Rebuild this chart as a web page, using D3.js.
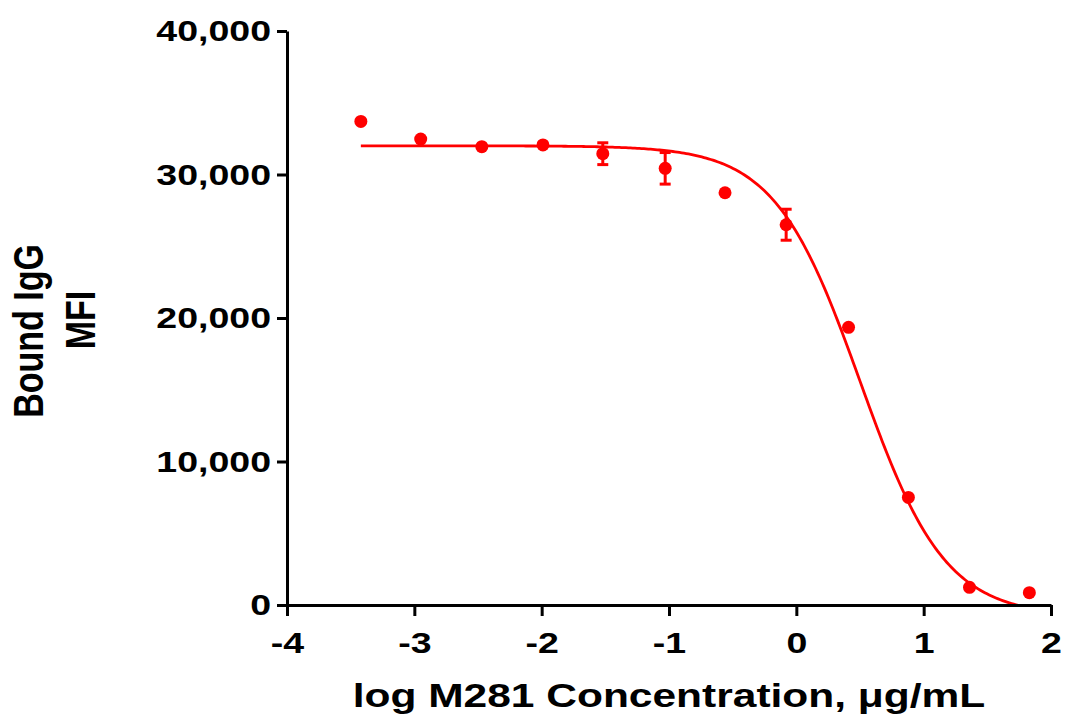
<!DOCTYPE html>
<html>
<head>
<meta charset="utf-8">
<script src="https://cdn.jsdelivr.net/npm/d3@7"></script>
<style>
  body { margin: 0; background: #fff; }
  svg { display: block; }
  text { font-family: "Liberation Sans", Arial, sans-serif; font-weight: bold; fill: #000; }
</style>
</head>
<body>
<svg width="1065" height="717"></svg>
<script>
// log10 concentration (ug/mL), 3-fold dilution series
const logConc = [-3.42, -2.95, -2.47, -1.99, -1.52, -1.03, -0.56, -0.08, 0.41, 0.88, 1.36, 1.83]
// mean bound IgG MFI
const mfi = [33700, 32470, 31940, 32060, 31450, 30430, 28730, 26500, 19350, 7500, 1230, 860]
// error (SD), only the visible ones
const sd = [0, 0, 0, 0, 760, 1100, 0, 1080, 0, 0, 0, 0]

const xTicks = [-4, -3, -2, -1, 0, 1, 2]
const yTicks = [0, 10000, 20000, 30000, 40000]

// 4PL fit
const fitTop = 32000
const fitBottom = -800
const logIC50 = 0.5
const hillSlope = 1.3

const red = '#ff0000'
const stretch = 1.25 // glyphs in the reference are wide

const svg = d3.select('svg')
const w = +svg.attr('width')
const h = +svg.attr('height')

const margin = {top: 31, right: 14, bottom: 112, left: 287}
const innerWidth = w - margin.left - margin.right
const innerHeight = h - margin.top - margin.bottom

const data = logConc.map((x, i) => ({x, y: mfi[i], sd: sd[i]}))

const xScale = d3.scaleLinear().domain([-4, 2]).range([0, innerWidth])
const yScale = d3.scaleLinear().domain([0, 40000]).range([innerHeight, 0])

const g = svg.append('g')
  .attr('transform', `translate(${margin.left}, ${margin.top})`)

svg.append('clipPath').attr('id', 'plot')
  .append('rect')
    .attr('x', 0).attr('y', -10)
    .attr('width', innerWidth).attr('height', innerHeight + 10)

// fitted curve
const fit = x => fitBottom + (fitTop - fitBottom) / (1 + Math.pow(10, hillSlope * (x - logIC50)))
const xs = d3.range(0, 301).map(i => logConc[0] + (logConc[logConc.length - 1] - logConc[0]) * i / 300)

g.append('path')
  .datum(xs)
  .attr('clip-path', 'url(#plot)')
  .attr('fill', 'none')
  .attr('stroke', red)
  .attr('stroke-width', 2.8)
  .attr('d', d3.line().x(d => xScale(d)).y(d => yScale(fit(d))))

// error bars
const eb = g.selectAll('.eb').data(data.filter(d => d.sd > 0))
  .enter().append('g').attr('class', 'eb')
  .attr('stroke', red).attr('stroke-width', 3)

eb.append('line')
  .attr('x1', d => xScale(d.x)).attr('x2', d => xScale(d.x))
  .attr('y1', d => yScale(d.y + d.sd)).attr('y2', d => yScale(d.y - d.sd))
eb.append('line')
  .attr('x1', d => xScale(d.x) - 5.5).attr('x2', d => xScale(d.x) + 5.5)
  .attr('y1', d => yScale(d.y + d.sd)).attr('y2', d => yScale(d.y + d.sd))
eb.append('line')
  .attr('x1', d => xScale(d.x) - 5.5).attr('x2', d => xScale(d.x) + 5.5)
  .attr('y1', d => yScale(d.y - d.sd)).attr('y2', d => yScale(d.y - d.sd))

g.selectAll('circle').data(data)
  .enter().append('circle')
    .attr('cx', d => xScale(d.x))
    .attr('cy', d => yScale(d.y))
    .attr('r', 6.5)
    .attr('fill', red)

// axes
const xAxisG = g.append('g')
  .attr('transform', `translate(0, ${innerHeight})`)
  .call(d3.axisBottom(xScale).tickValues(xTicks).tickFormat(d => String(d))
    .tickSize(11).tickPadding(16).tickSizeOuter(0))

const yAxisG = g.append('g')
  .call(d3.axisLeft(yScale).tickValues(yTicks).tickFormat(d3.format(','))
    .tickSize(10).tickPadding(6).tickSizeOuter(0))

;[xAxisG, yAxisG].forEach(a => {
  a.selectAll('.domain, .tick line').attr('stroke', '#000').attr('stroke-width', 3)
  a.selectAll('.tick text')
    .attr('font-size', 30)
    .attr('font-family', null)
    .attr('fill', '#000')
})

// widen glyphs to match the reference (scale about the anchor point)
const widen = sel => sel.each(function () {
  const t = d3.select(this)
  const x = +t.attr('x') || 0
  const y = +t.attr('y') || 0
  t.attr('x', 0).attr('y', 0)
    .attr('transform', `translate(${x}, ${y}) scale(${stretch}, 1)`)
})
widen(svg.selectAll('.tick text'))

const xTitle = svg.append('text')
  .attr('x', margin.left + innerWidth / 2)
  .attr('y', 707)
  .attr('text-anchor', 'middle')
  .attr('font-size', 34)
  .text('log M281 Concentration, μg/mL')
widen(xTitle)

// y title, two lines, rotated
const yTitle = svg.append('g')
  .attr('transform', `scale(${stretch}, 1)`)

yTitle.append('text')
  .attr('transform', `translate(${43 / stretch}, 331) rotate(-90)`)
  .attr('text-anchor', 'middle')
  .attr('font-size', 34)
  .text('Bound IgG')

yTitle.append('text')
  .attr('transform', `translate(${95 / stretch}, 320) rotate(-90)`)
  .attr('text-anchor', 'middle')
  .attr('font-size', 34)
  .text('MFI')
</script>
</body>
</html>
